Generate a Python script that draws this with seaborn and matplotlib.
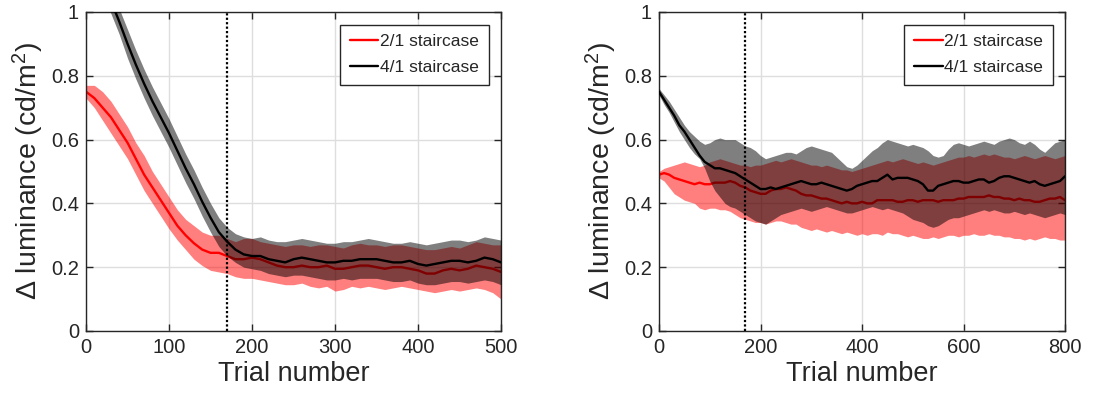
import numpy as np
import pandas as pd
import matplotlib
import matplotlib.pyplot as plt
import seaborn as sns

matplotlib.use('Agg')

# ---- data (every 10 trials) ----
trials_a = list(range(0, 501, 10))
trials_b = list(range(0, 801, 10))

# panel A, 2/1 staircase
red_a_mean = [0.75, 0.73, 0.70, 0.67, 0.63, 0.59, 0.54, 0.49, 0.45, 0.41, 0.37, 0.33, 0.30, 0.275, 0.255, 0.245,
              0.245, 0.235, 0.225, 0.225, 0.23, 0.225, 0.215, 0.205, 0.20, 0.20, 0.205, 0.20, 0.20, 0.205, 0.195,
              0.195, 0.20, 0.205, 0.205, 0.20, 0.195, 0.20, 0.20, 0.195, 0.19, 0.18, 0.18, 0.19, 0.195, 0.19,
              0.195, 0.205, 0.20, 0.195, 0.185]
red_a_hi = [0.77, 0.77, 0.75, 0.72, 0.68, 0.64, 0.59, 0.55, 0.50, 0.46, 0.42, 0.38, 0.35, 0.33, 0.31, 0.30,
            0.30, 0.29, 0.28, 0.29, 0.29, 0.28, 0.275, 0.27, 0.265, 0.27, 0.27, 0.265, 0.27, 0.27, 0.265,
            0.26, 0.27, 0.275, 0.27, 0.27, 0.265, 0.27, 0.27, 0.265, 0.26, 0.255, 0.255, 0.26, 0.265, 0.26,
            0.27, 0.28, 0.275, 0.27, 0.27]
red_a_lo = [0.73, 0.70, 0.66, 0.62, 0.58, 0.54, 0.49, 0.44, 0.40, 0.36, 0.32, 0.285, 0.255, 0.225, 0.205, 0.19,
            0.185, 0.18, 0.17, 0.165, 0.165, 0.16, 0.155, 0.15, 0.145, 0.145, 0.15, 0.14, 0.135, 0.14, 0.125,
            0.13, 0.14, 0.135, 0.14, 0.135, 0.13, 0.135, 0.14, 0.135, 0.13, 0.125, 0.12, 0.125, 0.13, 0.125,
            0.13, 0.135, 0.13, 0.12, 0.10]

# panel A, 4/1 staircase
blk_a_mean = [1.22, 1.16, 1.10, 1.035, 0.97, 0.90, 0.835, 0.775, 0.72, 0.67, 0.62, 0.565, 0.51, 0.46, 0.405, 0.355,
              0.31, 0.28, 0.255, 0.24, 0.235, 0.235, 0.225, 0.22, 0.215, 0.225, 0.23, 0.225, 0.22, 0.215, 0.215,
              0.22, 0.22, 0.225, 0.225, 0.225, 0.22, 0.215, 0.215, 0.22, 0.21, 0.205, 0.21, 0.215, 0.22, 0.22,
              0.215, 0.22, 0.23, 0.225, 0.215]
blk_a_hi = [1.26, 1.20, 1.14, 1.075, 1.01, 0.945, 0.88, 0.82, 0.765, 0.715, 0.665, 0.61, 0.555, 0.505, 0.45, 0.40,
            0.355, 0.325, 0.305, 0.295, 0.29, 0.295, 0.285, 0.28, 0.28, 0.285, 0.29, 0.285, 0.28, 0.275, 0.275,
            0.28, 0.28, 0.285, 0.29, 0.285, 0.28, 0.275, 0.275, 0.28, 0.275, 0.27, 0.275, 0.28, 0.285, 0.285,
            0.28, 0.285, 0.295, 0.29, 0.285]
blk_a_lo = [1.18, 1.12, 1.06, 0.995, 0.93, 0.855, 0.79, 0.73, 0.675, 0.625, 0.575, 0.52, 0.465, 0.415, 0.36, 0.31,
            0.265, 0.235, 0.215, 0.20, 0.195, 0.19, 0.18, 0.175, 0.17, 0.175, 0.175, 0.17, 0.165, 0.16, 0.16,
            0.165, 0.16, 0.165, 0.165, 0.165, 0.16, 0.155, 0.155, 0.16, 0.15, 0.145, 0.145, 0.15, 0.155, 0.155,
            0.15, 0.155, 0.16, 0.155, 0.145]

# panel B, 2/1 staircase
red_b_mean = [0.49, 0.495, 0.49, 0.48, 0.475, 0.47, 0.465, 0.46, 0.465, 0.46, 0.46, 0.465, 0.465, 0.465, 0.47, 0.465,
              0.455, 0.45, 0.44, 0.435, 0.43, 0.43, 0.44, 0.445, 0.445, 0.45, 0.445, 0.44, 0.43, 0.425, 0.425,
              0.42, 0.415, 0.415, 0.41, 0.405, 0.40, 0.405, 0.40, 0.40, 0.405, 0.40, 0.40, 0.41, 0.41, 0.41,
              0.41, 0.405, 0.405, 0.41, 0.41, 0.405, 0.41, 0.41, 0.41, 0.405, 0.41, 0.41, 0.41, 0.415, 0.415,
              0.42, 0.42, 0.42, 0.42, 0.425, 0.42, 0.42, 0.415, 0.415, 0.41, 0.415, 0.41, 0.41, 0.405, 0.405,
              0.41, 0.415, 0.415, 0.42, 0.41]
red_b_hi = [0.50, 0.51, 0.515, 0.52, 0.525, 0.53, 0.525, 0.52, 0.515, 0.52, 0.53, 0.535, 0.54, 0.535, 0.53, 0.525,
            0.52, 0.52, 0.515, 0.52, 0.52, 0.525, 0.53, 0.535, 0.53, 0.535, 0.54, 0.535, 0.53, 0.525, 0.52,
            0.52, 0.515, 0.52, 0.515, 0.51, 0.505, 0.505, 0.50, 0.505, 0.51, 0.515, 0.52, 0.525, 0.53, 0.535,
            0.53, 0.535, 0.54, 0.535, 0.53, 0.525, 0.53, 0.525, 0.52, 0.525, 0.53, 0.535, 0.54, 0.545, 0.545,
            0.55, 0.545, 0.55, 0.555, 0.55, 0.555, 0.55, 0.545, 0.545, 0.54, 0.545, 0.55, 0.545, 0.54, 0.545,
            0.55, 0.545, 0.54, 0.545, 0.55]
red_b_lo = [0.48, 0.47, 0.45, 0.43, 0.42, 0.41, 0.405, 0.40, 0.385, 0.38, 0.385, 0.385, 0.38, 0.38, 0.375, 0.365,
            0.355, 0.35, 0.345, 0.34, 0.34, 0.335, 0.34, 0.345, 0.345, 0.34, 0.335, 0.335, 0.325, 0.32, 0.315,
            0.32, 0.315, 0.31, 0.315, 0.31, 0.305, 0.31, 0.305, 0.30, 0.305, 0.30, 0.305, 0.305, 0.30, 0.31,
            0.305, 0.305, 0.30, 0.295, 0.30, 0.295, 0.29, 0.29, 0.295, 0.29, 0.295, 0.30, 0.30, 0.295, 0.30,
            0.30, 0.305, 0.30, 0.30, 0.305, 0.30, 0.30, 0.295, 0.295, 0.29, 0.29, 0.285, 0.29, 0.285, 0.29,
            0.295, 0.29, 0.29, 0.285, 0.285]

# panel B, 4/1 staircase
blk_b_mean = [0.75, 0.725, 0.70, 0.675, 0.645, 0.625, 0.60, 0.575, 0.55, 0.53, 0.52, 0.51, 0.51, 0.505, 0.50, 0.495,
              0.485, 0.475, 0.465, 0.455, 0.445, 0.445, 0.45, 0.445, 0.45, 0.455, 0.46, 0.465, 0.47, 0.465, 0.46,
              0.46, 0.465, 0.46, 0.455, 0.45, 0.445, 0.44, 0.445, 0.455, 0.46, 0.465, 0.47, 0.47, 0.48, 0.49,
              0.475, 0.48, 0.48, 0.48, 0.475, 0.47, 0.46, 0.44, 0.44, 0.455, 0.46, 0.465, 0.47, 0.47, 0.465,
              0.465, 0.47, 0.475, 0.475, 0.465, 0.47, 0.48, 0.485, 0.485, 0.48, 0.475, 0.47, 0.465, 0.47, 0.46,
              0.455, 0.46, 0.465, 0.47, 0.485]
blk_b_hi = [0.76, 0.74, 0.72, 0.695, 0.67, 0.645, 0.625, 0.61, 0.595, 0.585, 0.59, 0.60, 0.605, 0.60, 0.60, 0.60,
            0.59, 0.58, 0.575, 0.565, 0.55, 0.54, 0.545, 0.55, 0.555, 0.56, 0.56, 0.555, 0.565, 0.575, 0.58,
            0.575, 0.57, 0.565, 0.56, 0.545, 0.53, 0.515, 0.51, 0.52, 0.535, 0.55, 0.565, 0.575, 0.59, 0.60,
            0.595, 0.59, 0.585, 0.58, 0.585, 0.58, 0.575, 0.565, 0.55, 0.545, 0.55, 0.57, 0.585, 0.59, 0.585,
            0.58, 0.585, 0.59, 0.595, 0.59, 0.585, 0.595, 0.60, 0.605, 0.60, 0.59, 0.585, 0.595, 0.585, 0.57,
            0.56, 0.575, 0.59, 0.595, 0.60]
blk_b_lo = [0.74, 0.71, 0.685, 0.655, 0.625, 0.60, 0.575, 0.555, 0.54, 0.51, 0.47, 0.44, 0.42, 0.40, 0.39, 0.385,
            0.375, 0.365, 0.355, 0.345, 0.34, 0.335, 0.345, 0.355, 0.365, 0.37, 0.375, 0.38, 0.385, 0.38, 0.375,
            0.38, 0.385, 0.39, 0.385, 0.38, 0.375, 0.37, 0.37, 0.375, 0.38, 0.385, 0.39, 0.385, 0.38, 0.385,
            0.38, 0.375, 0.37, 0.36, 0.35, 0.345, 0.34, 0.33, 0.325, 0.33, 0.34, 0.35, 0.355, 0.355, 0.36,
            0.365, 0.37, 0.375, 0.38, 0.375, 0.38, 0.375, 0.37, 0.37, 0.375, 0.37, 0.365, 0.37, 0.365, 0.36,
            0.355, 0.36, 0.365, 0.37, 0.365]

labels = ['2/1 staircase', '4/1 staircase']
colors = ['#ff0000', '#000000']
x_max = [500, 800]
x_step = [100, 200]
marker_trial = 170

panels = [
    (trials_a, [(red_a_mean, red_a_lo, red_a_hi), (blk_a_mean, blk_a_lo, blk_a_hi)]),
    (trials_b, [(red_b_mean, red_b_lo, red_b_hi), (blk_b_mean, blk_b_lo, blk_b_hi)]),
]

# ---- style ----
sns.set_theme(style="whitegrid")
plt.rcParams['font.family'] = ['Liberation Sans', 'DejaVu Sans']
plt.rcParams['mathtext.default'] = 'regular'

fig = plt.figure(figsize=(11.13, 4.03), dpi=100)
rects = [[0.0773, 0.1787, 0.3729, 0.7916], [0.5921, 0.1787, 0.3648, 0.7916]]

for i, (trials, series) in enumerate(panels):
    ax = fig.add_axes(rects[i])
    ax.set_facecolor('white')
    z = 1
    for (mean, lo, hi), lab, col in zip(series, labels, colors):
        df = pd.DataFrame({'trial': trials, 'lum': mean})
        ax.fill_between(trials, lo, hi, color=col, alpha=0.5, linewidth=0, zorder=z)
        sns.lineplot(data=df, x='trial', y='lum', color=col, lw=1.7, ax=ax, label=lab, zorder=z + 1)
        z += 2
    ax.axvline(marker_trial, color='black', ls=(0, (1, 1)), lw=1.6, zorder=10)

    ax.set_xlim(0, x_max[i])
    ax.set_ylim(0, 1)
    ax.set_xticks(np.arange(0, x_max[i] + 1, x_step[i]))
    ax.set_yticks([0, 0.2, 0.4, 0.6, 0.8, 1])
    ax.set_yticklabels(['0', '0.2', '0.4', '0.6', '0.8', '1'])
    ax.grid(True, color='#dedede', lw=1)
    ax.tick_params(direction='in', length=5, width=1, colors='#262626', labelsize=14.5,
                   top=True, right=True, bottom=True, left=True, pad=5)
    for lbl in ax.get_xticklabels() + ax.get_yticklabels():
        lbl.set_color('#262626')
    for s in ax.spines.values():
        s.set_color('#262626')
        s.set_linewidth(1)
    ax.set_xlabel('Trial number', fontsize=19.5, color='#262626', labelpad=3)
    ax.set_ylabel('Δ luminance (cd/m$^2$)', fontsize=20.5, color='#262626', labelpad=4)

    leg = ax.legend(loc='upper right', bbox_to_anchor=(0.97, 0.96), fontsize=12.5,
                    frameon=True, fancybox=False, framealpha=1, edgecolor='#262626',
                    handlelength=1.65, handletextpad=0.1, labelspacing=0.6, borderpad=0.55,
                    borderaxespad=0)
    leg.get_frame().set_linewidth(1)
    leg.set_zorder(20)

plt.savefig('out.png', dpi=100)
